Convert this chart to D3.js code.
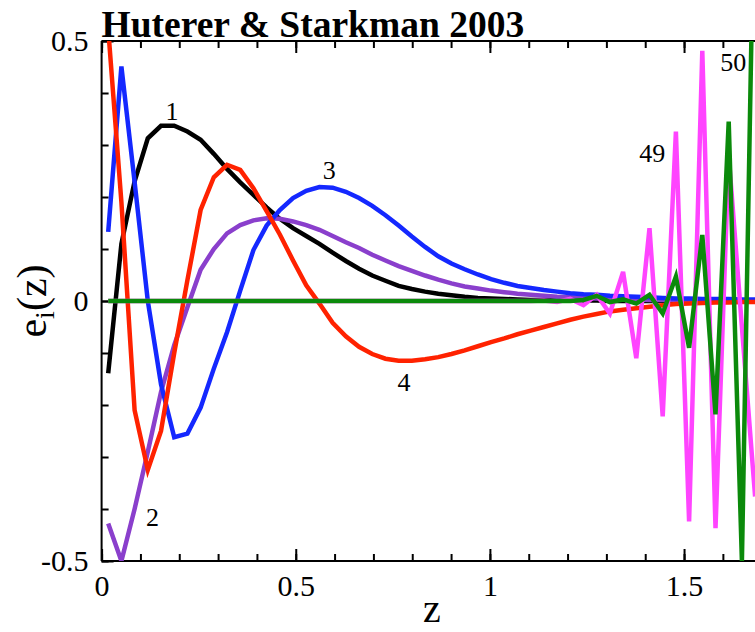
<!DOCTYPE html>
<html lang="en">
<head>
  <meta charset="UTF-8">
  <title>Huterer & Starkman 2003</title>
  <script src="https://d3js.org/d3.v7.min.js"></script>
  <style>
    body { margin: 0; background: #fff; }
    .axis path, .axis line { stroke: #000; stroke-width: 2px; }
    .curve { fill: none; stroke-width: 4.5px; }
  </style>
</head>
<body>
  <svg width="755" height="632"></svg>
  <script>
    // bin centres in redshift
    const z = [0.017, 0.051, 0.085, 0.119, 0.153, 0.187, 0.221, 0.255, 0.289, 0.323,
               0.357, 0.391, 0.425, 0.459, 0.493, 0.527, 0.561, 0.595, 0.629, 0.663,
               0.697, 0.731, 0.765, 0.799, 0.833, 0.867, 0.901, 0.935, 0.969, 1.003,
               1.037, 1.071, 1.105, 1.139, 1.173, 1.207, 1.241, 1.275, 1.309, 1.343,
               1.377, 1.411, 1.445, 1.479, 1.513, 1.547, 1.581, 1.615, 1.649, 1.683];

    const e1 = [-0.139, 0.11, 0.23, 0.313, 0.337, 0.337, 0.326, 0.31, 0.283, 0.254,
                0.228, 0.204, 0.18, 0.158, 0.14, 0.125, 0.11, 0.093, 0.077, 0.062,
                0.049, 0.039, 0.029, 0.023, 0.018, 0.014, 0.011, 0.008, 0.006, 0.005,
                0.004, 0.003, 0.002, 0.002, 0.001, 0.001, 0.001, 0.001, 0, 0,
                0, 0, 0, 0, 0, 0, 0, 0, 0, 0];
    const e2 = [-0.428, -0.5, -0.4, -0.29, -0.175, -0.085, -0.012, 0.06, 0.1, 0.13,
                0.146, 0.155, 0.159, 0.158, 0.153, 0.146, 0.137, 0.125, 0.113, 0.102,
                0.089, 0.078, 0.067, 0.058, 0.049, 0.041, 0.034, 0.028, 0.024, 0.02,
                0.017, 0.014, 0.012, 0.01, 0.008, 0.007, 0.006, 0.005, 0.004, 0.003,
                0.003, 0.002, 0.002, 0.002, 0.001, 0.001, 0.001, 0.001, 0.001, 0.001];
    const e3 = [0.133, 0.451, 0.229, 0, -0.16, -0.262, -0.255, -0.205, -0.13, -0.06,
                0.02, 0.098, 0.145, 0.175, 0.198, 0.212, 0.219, 0.218, 0.21, 0.198,
                0.183, 0.165, 0.145, 0.124, 0.104, 0.086, 0.072, 0.061, 0.051, 0.042,
                0.035, 0.029, 0.025, 0.021, 0.018, 0.015, 0.013, 0.012, 0.01, 0.009,
                0.008, 0.007, 0.006, 0.005, 0.005, 0.004, 0.004, 0.004, 0.003, 0.003];
    const e4 = [0.524, 0.19, -0.21, -0.325, -0.25, -0.1, 0.04, 0.175, 0.238, 0.262,
                0.252, 0.217, 0.173, 0.128, 0.078, 0.03, -0.005, -0.042, -0.068, -0.088,
                -0.102, -0.111, -0.115, -0.115, -0.112, -0.108, -0.102, -0.095, -0.087, -0.079,
                -0.072, -0.064, -0.057, -0.05, -0.043, -0.036, -0.03, -0.025, -0.02, -0.017,
                -0.014, -0.011, -0.008, -0.006, -0.005, -0.004, -0.003, -0.003, -0.002, -0.002];
    const e49 = [0, 0, 0, 0, 0, 0, 0, 0, 0, 0,
                 0, 0, 0, 0, 0, 0, 0, 0, 0, 0,
                 0, 0, 0, 0, 0, 0, 0, 0, 0, 0,
                 0, 0, 0, 0.001, -0.002, 0.004, -0.008, 0.012, -0.024, 0.056,
                 -0.11, 0.14, -0.222, 0.326, -0.424, 0.481, -0.437, 0.28, -0.05, -0.376];
    const e50 = [0, 0, 0, 0, 0, 0, 0, 0, 0, 0,
                 0, 0, 0, 0, 0, 0, 0, 0, 0, 0,
                 0, 0, 0, 0, 0, 0, 0, 0, 0, 0,
                 0, 0, 0, 0, 0, 0, 0.002, 0.01, -0.002, 0.003,
                 -0.005, 0.012, -0.024, 0.047, -0.09, 0.127, -0.218, 0.345, -0.5, 0.9];

    const series = [
      { name: "1", values: e1, color: "#000000" },
      { name: "2", values: e2, color: "#8a3fcc" },
      { name: "3", values: e3, color: "#1428ff" },
      { name: "4", values: e4, color: "#ff2200" },
      { name: "49", values: e49, color: "#ff44ff" },
      { name: "50", values: e50, color: "#0b8a0b" }
    ];

    // curve labels, placed by data coordinates
    const labels = [
      { text: "1", z: 0.181, e: 0.366 },
      { text: "2", z: 0.131, e: -0.416 },
      { text: "3", z: 0.586, e: 0.252 },
      { text: "4", z: 0.779, e: -0.155 },
      { text: "49", z: 1.418, e: 0.284 },
      { text: "50", z: 1.627, e: 0.459 }
    ];

    const xMajor = [0, 0.5, 1, 1.5];
    const yMajor = [-0.5, 0, 0.5];

    const serif = '"Liberation Serif", "Times New Roman", Times, serif';

    const svg = d3.select("svg"),
          width = +svg.attr("width"),
          height = +svg.attr("height");

    const mLeft = 101.6, mTop = 41, mBottom = 561;
    const x = d3.scaleLinear().domain([0, 1.7]).range([mLeft, mLeft + 1.7 * 388.3]);
    const y = d3.scaleLinear().domain([-0.5, 0.5]).range([mBottom, mTop]);

    svg.append("defs").append("clipPath").attr("id", "clip")
      .append("rect")
      .attr("x", x(0)).attr("y", y(0.5))
      .attr("width", x(1.7) - x(0)).attr("height", y(-0.5) - y(0.5));

    const minor = d3.range(0, 17).map(d => d / 10);
    const yMinor = d3.range(-5, 6).map(d => d / 10);

    // minor ticks
    svg.append("g").attr("class", "axis")
      .attr("transform", `translate(0,${mBottom})`)
      .call(d3.axisBottom(x).tickValues(minor).tickSize(-7).tickFormat(""))
      .call(g => g.select(".domain").remove());
    svg.append("g").attr("class", "axis")
      .attr("transform", `translate(0,${mTop})`)
      .call(d3.axisTop(x).tickValues(minor).tickSize(-7).tickFormat(""))
      .call(g => g.select(".domain").remove());
    svg.append("g").attr("class", "axis")
      .attr("transform", `translate(${mLeft},0)`)
      .call(d3.axisLeft(y).tickValues(yMinor).tickSize(-7).tickFormat(""))
      .call(g => g.select(".domain").remove());

    // major ticks + labels
    const fmt = d => d === 0 ? "0" : String(d);
    svg.append("g").attr("class", "axis")
      .attr("transform", `translate(0,${mBottom})`)
      .call(d3.axisBottom(x).tickValues(xMajor).tickSize(-12).tickPadding(14).tickFormat(fmt))
      .call(g => g.select(".domain").remove())
      .attr("font-family", serif)
      .selectAll("text").style("font-family", serif).style("font-size", "30px");
    svg.append("g").attr("class", "axis")
      .attr("transform", `translate(0,${mTop})`)
      .call(d3.axisTop(x).tickValues(xMajor).tickSize(-12).tickFormat(""))
      .call(g => g.select(".domain").remove());
    svg.append("g").attr("class", "axis")
      .attr("transform", `translate(${mLeft},0)`)
      .call(d3.axisLeft(y).tickValues(yMajor).tickSize(-12).tickPadding(13).tickFormat(fmt))
      .call(g => g.select(".domain").remove())
      .attr("font-family", serif)
      .selectAll("text").style("font-family", serif).style("font-size", "30px");

    // frame lines
    const frame = svg.append("g").attr("class", "axis");
    frame.append("line").attr("x1", mLeft).attr("x2", width).attr("y1", mBottom).attr("y2", mBottom);
    frame.append("line").attr("x1", mLeft).attr("x2", width).attr("y1", mTop).attr("y2", mTop);
    frame.append("line").attr("x1", mLeft).attr("x2", mLeft).attr("y1", mTop).attr("y2", mBottom);

    const line = d3.line()
      .x((d, i) => x(z[i]))
      .y(d => y(d));

    svg.append("g").attr("clip-path", "url(#clip)")
      .selectAll("path")
      .data(series)
      .enter().append("path")
      .attr("class", "curve")
      .attr("stroke", d => d.color)
      .attr("d", d => line(d.values));

    svg.append("g").selectAll("text")
      .data(labels)
      .enter().append("text")
      .attr("x", d => x(d.z))
      .attr("y", d => y(d.e))
      .attr("dy", "0.35em")
      .style("text-anchor", "middle")
      .style("font-family", serif)
      .style("font-size", "26px")
      .text(d => d.text);

    svg.append("text")
      .attr("x", mLeft)
      .attr("y", 37)
      .style("font-family", serif)
      .style("font-size", "37.5px")
      .style("font-weight", "bold")
      .text("Huterer & Starkman 2003");

    svg.append("text")
      .attr("x", 432)
      .attr("y", 622)
      .style("text-anchor", "middle")
      .style("font-family", serif)
      .style("font-size", "40px")
      .text("z");

    const yl = svg.append("text")
      .attr("transform", "translate(46,301) rotate(-90)")
      .style("text-anchor", "middle")
      .style("font-family", serif)
      .style("font-size", "42px");
    yl.append("tspan").text("e");
    yl.append("tspan").attr("dy", 8).style("font-size", "28px").text("i");
    yl.append("tspan").attr("dy", -8).text("(z)");
  </script>
</body>
</html>
